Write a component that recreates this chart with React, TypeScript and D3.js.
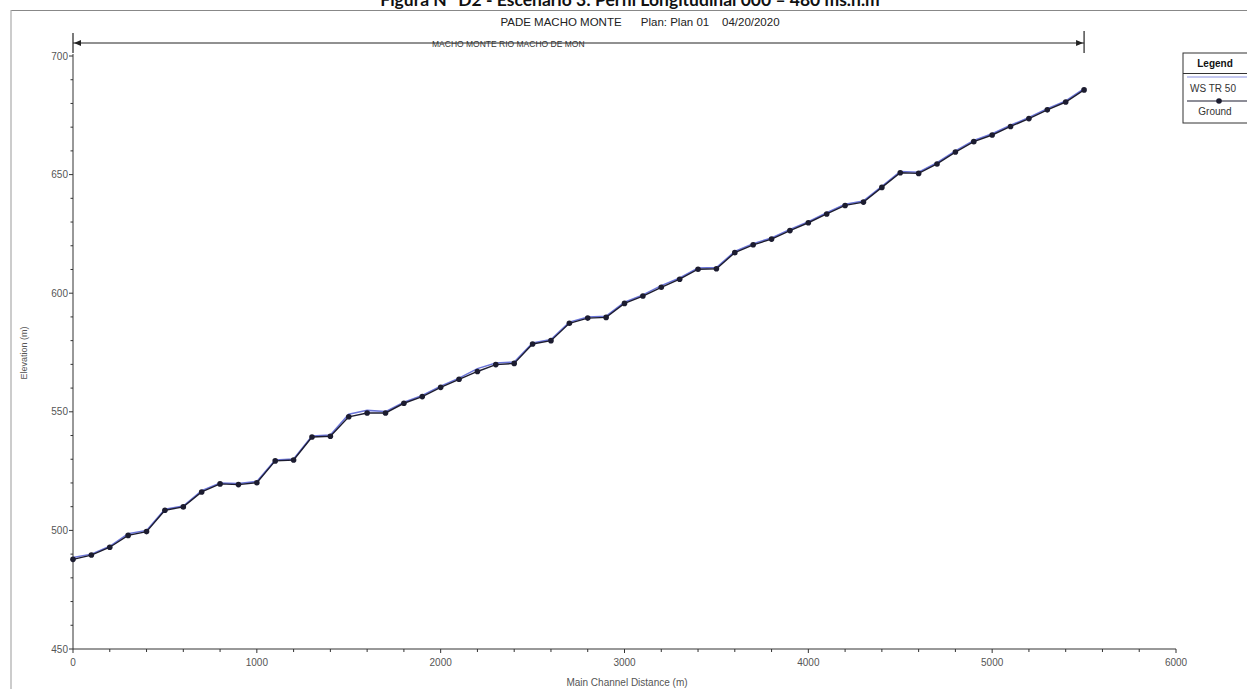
import React from "react";
import * as d3 from "d3";

const distances = [0,100,200,300,400,500,600,700,800,900,1000,1100,1200,1300,1400,1500,1600,1700,1800,1900,2000,2100,2200,2300,2400,2500,2600,2700,2800,2900,3000,3100,3200,3300,3400,3500,3600,3700,3800,3900,4000,4100,4200,4300,4400,4500,4600,4700,4800,4900,5000,5100,5200,5300,5400,5500];
const ground = [487.8,489.6,492.9,497.9,499.5,508.5,509.9,516.2,519.6,519.3,520.1,529.3,529.7,539.4,539.7,547.9,549.5,549.5,553.6,556.4,560.3,563.7,567.0,569.9,570.4,578.6,580.0,587.3,589.5,589.8,595.7,598.8,602.5,605.9,610.1,610.3,617.1,620.4,622.8,626.4,629.7,633.4,637.0,638.4,644.6,650.8,650.5,654.5,659.5,663.9,666.7,670.3,673.6,677.3,680.6,685.7];
const wsTR50 = [488.6,490.0,493.3,498.6,500.0,508.9,510.3,516.8,520.0,519.8,520.6,529.7,530.1,539.8,540.2,549.0,550.6,550.1,554.0,556.9,560.8,564.2,568.2,570.6,571.0,579.0,580.5,587.8,590.0,590.3,596.2,599.3,603.2,606.4,610.6,610.8,617.6,620.9,623.3,626.9,630.2,633.9,637.5,638.9,645.0,651.3,651.0,655.0,660.0,664.4,667.2,670.8,674.1,677.8,681.1,686.2];
const xMajorTicks = [0,1000,2000,3000,4000,5000,6000];
const yMajorTicks = [450,500,550,600,650,700];

const W = 1247, H = 689;

export default function App() {
  const x = d3.scaleLinear().domain([0, 6000]).range([73, 1176]);
  const y = d3.scaleLinear().domain([450, 700]).range([649, 56]);
  const xMinor = d3.range(0, 6001, 200).filter(v => v % 1000 !== 0);
  const yMinor = d3.range(450, 701, 10).filter(v => v % 50 !== 0);
  const line = d3.line<number>().x((_, i) => x(distances[i])).y(d => y(d));
  const axisColor = "#333";
  const labelColor = "#555";
  const font = "'Liberation Sans', Arial, sans-serif";
  const bx0 = x(0), bx1 = x(5500), by = 43;
  return (
    <svg width={W} height={H} style={{ position: "absolute", left: 0, top: 0, background: "#fff" }} fontFamily={font}>
      <rect x={0} y={0} width={W} height={H} fill="#fff" />
      {/* figure caption, cut off at the top as in the source */}
      <text x={630} y={6} textAnchor="middle" fontFamily="Lato, 'Open Sans', sans-serif" fontWeight="bold" fontSize={17.5} fill="#111">
        Figura N° D2 - Escenario 3: Perfil Longitudinal 000 – 480 ms.n.m
      </text>
      {/* frame */}
      <line x1={11} y1={10.5} x2={W} y2={10.5} stroke="#888" strokeWidth={1.2} />
      <line x1={11} y1={10} x2={11} y2={H} stroke="#aaa" strokeWidth={1.2} />
      {/* header */}
      <text x={640} y={26} textAnchor="middle" fontSize={11.5} fill="#222">
        PADE MACHO MONTE{"\u00A0\u00A0\u00A0\u00A0\u00A0\u00A0"}Plan: Plan 01{"\u00A0\u00A0\u00A0\u00A0"}04/20/2020
      </text>
      {/* reach bracket */}
      <line x1={bx0} y1={by} x2={bx1} y2={by} stroke="#222" strokeWidth={1} />
      <line x1={bx0} y1={33} x2={bx0} y2={53} stroke="#222" strokeWidth={1.2} />
      <line x1={bx1} y1={31} x2={bx1} y2={53} stroke="#222" strokeWidth={1.2} />
      <path d={`M${bx0 + 1},${by} l7,-3 l0,6 z`} fill="#222" />
      <path d={`M${bx1 - 1},${by} l-7,-3 l0,6 z`} fill="#222" />
      <text x={432} y={46.5} fontSize={8.5} fill="#333">MACHO MONTE RIO MACHO DE MON</text>
      {/* axes */}
      <line x1={x(0)} y1={y(450)} x2={x(6000)} y2={y(450)} stroke={axisColor} strokeWidth={1} />
      <line x1={x(0)} y1={y(450)} x2={x(0)} y2={y(700) - 2} stroke={axisColor} strokeWidth={1} />
      {xMajorTicks.map(v => (
        <g key={"xm" + v}>
          <line x1={x(v)} y1={y(450)} x2={x(v)} y2={y(450) + 4} stroke={axisColor} />
          <text x={x(v)} y={y(450) + 17} textAnchor="middle" fontSize={10} fill={labelColor}>{v}</text>
        </g>
      ))}
      {xMinor.map(v => (
        <line key={"xn" + v} x1={x(v)} y1={y(450)} x2={x(v)} y2={y(450) + 3} stroke={axisColor} />
      ))}
      {yMajorTicks.map(v => (
        <g key={"ym" + v}>
          <line x1={x(0) - 4} y1={y(v)} x2={x(0)} y2={y(v)} stroke={axisColor} />
          <text x={x(0) - 5} y={y(v) + 3.5} textAnchor="end" fontSize={10} fill={labelColor}>{v}</text>
        </g>
      ))}
      {yMinor.map(v => (
        <line key={"yn" + v} x1={x(0) - 2.5} y1={y(v)} x2={x(0)} y2={y(v)} stroke={axisColor} />
      ))}
      <text transform={`translate(27,353) rotate(-90)`} textAnchor="middle" fontSize={9} fill={labelColor}>Elevation (m)</text>
      <text x={627} y={686} textAnchor="middle" fontSize={10} fill={labelColor}>Main Channel Distance (m)</text>
      {/* series */}
      <path d={line(wsTR50) || ""} fill="none" stroke="#6a74d8" strokeWidth={1.5} />
      <path d={line(ground) || ""} fill="none" stroke="#1c1c30" strokeWidth={1.4} />
      {ground.map((g, i) => (
        <circle key={"g" + i} cx={x(distances[i])} cy={y(g)} r={2.8} fill="#1c1c30" />
      ))}
      {/* legend */}
      <rect x={1183} y={53} width={80} height={70} fill="#fff" stroke="#333" strokeWidth={1} />
      <text x={1215} y={67} textAnchor="middle" fontSize={10} fontWeight="bold" fill="#111">Legend</text>
      <line x1={1183} y1={73.5} x2={W} y2={73.5} stroke="#333" strokeWidth={1} />
      <line x1={1187} y1={77} x2={W} y2={77} stroke="#8890e0" strokeWidth={1} />
      <text x={1190} y={92} fontSize={10} fill="#333">WS  TR 50</text>
      <line x1={1187} y1={101} x2={W} y2={101} stroke="#1c1c30" strokeWidth={1.2} />
      <circle cx={1219} cy={101} r={2.8} fill="#1c1c30" />
      <text x={1215} y={115} textAnchor="middle" fontSize={10} fill="#333">Ground</text>
    </svg>
  );
}
